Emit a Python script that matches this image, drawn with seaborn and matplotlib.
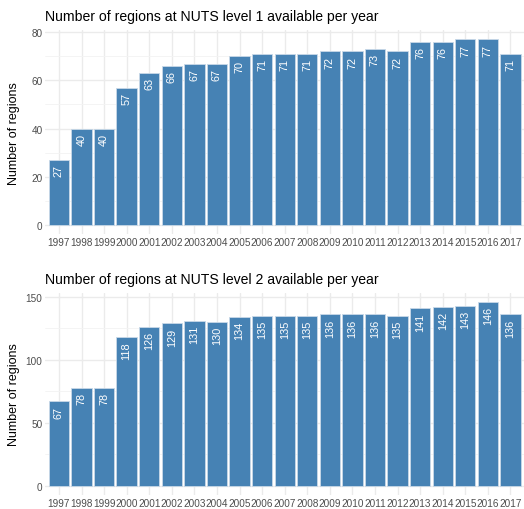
import numpy as np
import pandas as pd
import matplotlib
matplotlib.use("Agg")
import matplotlib.pyplot as plt
import seaborn as sns
from matplotlib.ticker import MultipleLocator

sns.set_theme(style="white")
plt.rcParams["font.family"] = ["Liberation Sans", "DejaVu Sans"]

years = list(range(1997, 2018))
nuts1 = [27, 40, 40, 57, 63, 66, 67, 67, 70, 71, 71, 71, 72, 72, 73, 72, 76, 76, 77, 77, 71]
nuts2 = [67, 78, 78, 118, 126, 129, 131, 130, 134, 135, 135, 135, 136, 136, 136, 135, 141, 142, 143, 146, 136]

panels = [
    ("Number of regions at NUTS level 1 available per year", nuts1, 20, 10, [0.0866, 0.5386, 0.9134, 0.4004]),
    ("Number of regions at NUTS level 2 available per year", nuts2, 50, 25, [0.0866, 0.0275, 0.9134, 0.3966]),
]

fig = plt.figure(figsize=(5.24, 5.10), dpi=100)

for title, vals, major, minor, rect in panels:
    ax = fig.add_axes(rect)
    df = pd.DataFrame({"year": [str(y) for y in years], "n": vals})
    sns.barplot(data=df, x="year", y="n", color="#4682B4", saturation=1,
                width=0.9, edgecolor="#C9D9E8", linewidth=0.6, ax=ax, zorder=3)
    top = max(vals)
    ax.set_ylim(-0.05 * top, top * 1.05)
    ax.set_xlim(-0.6, len(years) - 0.4)
    ax.yaxis.set_major_locator(MultipleLocator(major))
    ax.yaxis.set_minor_locator(MultipleLocator(minor))
    ax.grid(True, which="major", color="#EBEBEB", linewidth=1.0, zorder=0)
    ax.grid(True, which="minor", axis="y", color="#F3F3F3", linewidth=0.6, zorder=0)
    ax.set_axisbelow(True)
    for s in ax.spines.values():
        s.set_visible(False)
    ax.tick_params(axis="both", length=0, colors="#4D4D4D", labelsize=7.2, pad=2)
    for i, v in enumerate(vals):
        ax.annotate(str(v), (i, v), xytext=(0, -3), textcoords="offset points",
                    rotation=90, ha="center", va="top", color="white", fontsize=7.8)
    ax.set_xlabel("")
    ax.set_ylabel("Number of regions", fontsize=9, color="black")
    ax.yaxis.set_label_coords(-0.054, 0.5)
    ax.set_title(title, loc="left", fontsize=10.1, color="black", pad=7)

fig.savefig("out.png", dpi=100)
